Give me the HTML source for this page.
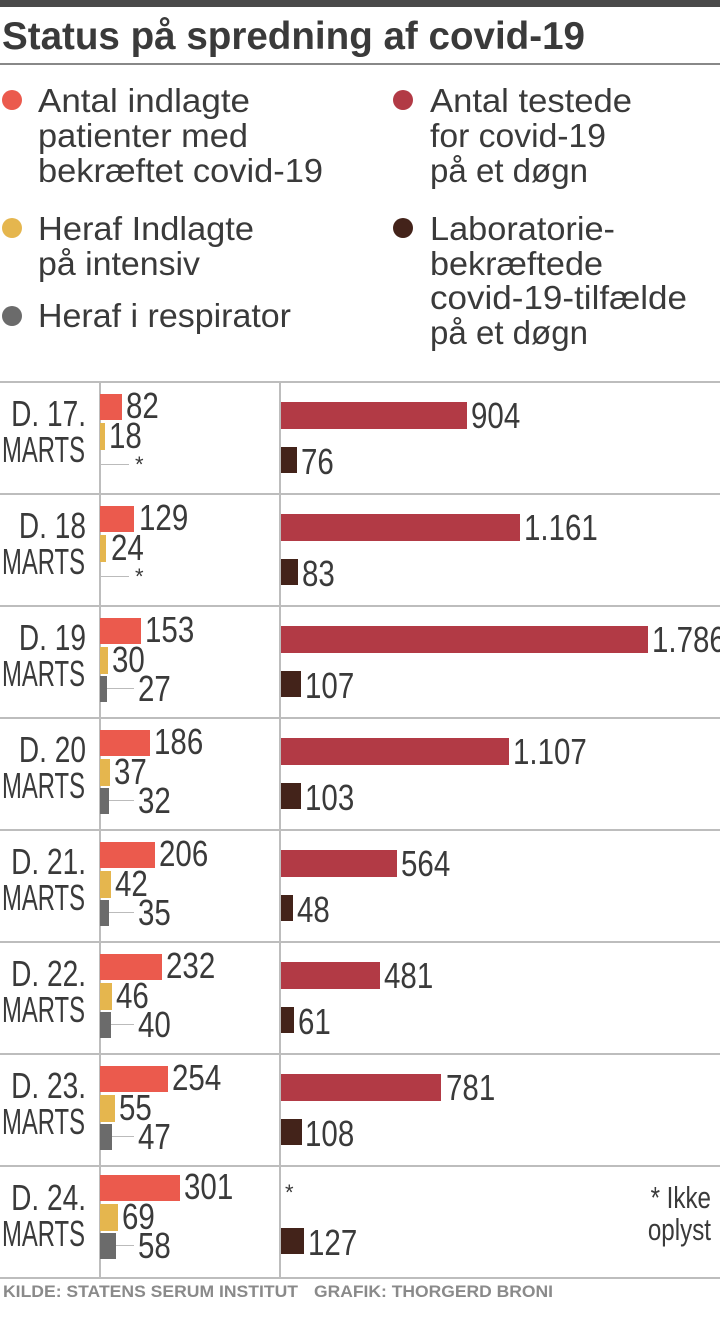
<!DOCTYPE html>
<html><head><meta charset="utf-8"><style>
html,body{margin:0;padding:0;background:#fff}
svg{display:block}
text{font-family:"Liberation Sans",sans-serif;fill:#3a3a3a}
.n{font-size:36px}
.lg{font-size:33px}
</style></head><body>
<svg width="720" height="1327" viewBox="0 0 720 1327" xmlns="http://www.w3.org/2000/svg">
<rect x="0" y="0" width="720" height="7" fill="#4a4a4a"/>
<text x="2" y="49" font-size="39" font-weight="bold" textLength="583" lengthAdjust="spacingAndGlyphs">Status på spredning af covid-19</text>
<rect x="0" y="63" width="720" height="2" fill="#888"/>

<circle cx="12" cy="100" r="10" fill="#eb5a4d"/>
<text class="lg" x="38" y="112" textLength="212" lengthAdjust="spacingAndGlyphs">Antal indlagte</text>
<text class="lg" x="38" y="147" textLength="210" lengthAdjust="spacingAndGlyphs">patienter med</text>
<text class="lg" x="38" y="182" textLength="285" lengthAdjust="spacingAndGlyphs">bekræftet covid-19</text>
<circle cx="12" cy="228" r="10" fill="#e5b64e"/>
<text class="lg" x="38" y="240" textLength="216" lengthAdjust="spacingAndGlyphs">Heraf Indlagte</text>
<text class="lg" x="38" y="275" textLength="162" lengthAdjust="spacingAndGlyphs">på intensiv</text>
<circle cx="12" cy="316" r="10" fill="#6b6b6b"/>
<text class="lg" x="38" y="327" textLength="253" lengthAdjust="spacingAndGlyphs">Heraf i respirator</text>
<circle cx="403" cy="100" r="10" fill="#b23a45"/>
<text class="lg" x="430" y="112" textLength="202" lengthAdjust="spacingAndGlyphs">Antal testede</text>
<text class="lg" x="430" y="147" textLength="176" lengthAdjust="spacingAndGlyphs">for covid-19</text>
<text class="lg" x="430" y="182" textLength="158" lengthAdjust="spacingAndGlyphs">på et døgn</text>
<circle cx="403" cy="228" r="10" fill="#43231a"/>
<text class="lg" x="430" y="240" textLength="185" lengthAdjust="spacingAndGlyphs">Laboratorie-</text>
<text class="lg" x="430" y="275" textLength="173" lengthAdjust="spacingAndGlyphs">bekræftede</text>
<text class="lg" x="430" y="309" textLength="257" lengthAdjust="spacingAndGlyphs">covid-19-tilfælde</text>
<text class="lg" x="430" y="344" textLength="158" lengthAdjust="spacingAndGlyphs">på et døgn</text>

<g fill="#bdbdbd">
<rect x="0" y="381" width="720" height="2"/>
<rect x="0" y="493" width="720" height="2"/>
<rect x="0" y="605" width="720" height="2"/>
<rect x="0" y="717" width="720" height="2"/>
<rect x="0" y="829" width="720" height="2"/>
<rect x="0" y="941" width="720" height="2"/>
<rect x="0" y="1053" width="720" height="2"/>
<rect x="0" y="1165" width="720" height="2"/>
<rect x="0" y="1277" width="720" height="2"/>
<rect x="99" y="381" width="2" height="898"/>
<rect x="279" y="381" width="2" height="898"/>
</g>

<!-- Row 0 -->
<text class="n" text-anchor="end" transform="translate(86,426) scale(.78,1)">D. 17.</text>
<text class="n" x="2" y="462" textLength="83" lengthAdjust="spacingAndGlyphs">MARTS</text>
<rect x="100" y="394" width="22" height="26" fill="#eb5a4d"/>
<text class="n" transform="translate(126,418) scale(.82,1)">82</text>
<rect x="100" y="423" width="5" height="27" fill="#e5b64e"/>
<text class="n" transform="translate(109,448) scale(.82,1)">18</text>
<rect x="101" y="464" width="28" height="1" fill="#bbb"/>
<text transform="translate(135,472)" font-size="22">*</text>
<rect x="281" y="402" width="186" height="27" fill="#b23a45"/>
<text class="n" transform="translate(471,428) scale(.82,1)">904</text>
<rect x="281" y="447" width="16" height="26" fill="#43231a"/>
<text class="n" transform="translate(301,474) scale(.82,1)">76</text>

<!-- Row 1 -->
<text class="n" text-anchor="end" transform="translate(86,538) scale(.78,1)">D. 18</text>
<text class="n" x="2" y="574" textLength="83" lengthAdjust="spacingAndGlyphs">MARTS</text>
<rect x="100" y="506" width="34" height="26" fill="#eb5a4d"/>
<text class="n" transform="translate(139,530) scale(.82,1)">129</text>
<rect x="100" y="535" width="6" height="27" fill="#e5b64e"/>
<text class="n" transform="translate(111,560) scale(.82,1)">24</text>
<rect x="101" y="576" width="28" height="1" fill="#bbb"/>
<text transform="translate(135,584)" font-size="22">*</text>
<rect x="281" y="514" width="239" height="27" fill="#b23a45"/>
<text class="n" transform="translate(524,540) scale(.82,1)">1.161</text>
<rect x="281" y="559" width="17" height="26" fill="#43231a"/>
<text class="n" transform="translate(302,586) scale(.82,1)">83</text>

<!-- Row 2 -->
<text class="n" text-anchor="end" transform="translate(86,650) scale(.78,1)">D. 19</text>
<text class="n" x="2" y="686" textLength="83" lengthAdjust="spacingAndGlyphs">MARTS</text>
<rect x="100" y="618" width="41" height="26" fill="#eb5a4d"/>
<text class="n" transform="translate(145,642) scale(.82,1)">153</text>
<rect x="100" y="647" width="8" height="27" fill="#e5b64e"/>
<text class="n" transform="translate(112,672) scale(.82,1)">30</text>
<rect x="100" y="676" width="7" height="26" fill="#6b6b6b"/>
<rect x="107" y="688" width="27" height="1" fill="#bbb"/>
<text class="n" transform="translate(138,701) scale(.82,1)">27</text>
<rect x="281" y="626" width="367" height="27" fill="#b23a45"/>
<text class="n" transform="translate(652,652) scale(.82,1)">1.786</text>
<rect x="281" y="671" width="20" height="26" fill="#43231a"/>
<text class="n" transform="translate(305,698) scale(.82,1)">107</text>

<!-- Row 3 -->
<text class="n" text-anchor="end" transform="translate(86,762) scale(.78,1)">D. 20</text>
<text class="n" x="2" y="798" textLength="83" lengthAdjust="spacingAndGlyphs">MARTS</text>
<rect x="100" y="730" width="50" height="26" fill="#eb5a4d"/>
<text class="n" transform="translate(154,754) scale(.82,1)">186</text>
<rect x="100" y="759" width="10" height="27" fill="#e5b64e"/>
<text class="n" transform="translate(114,784) scale(.82,1)">37</text>
<rect x="100" y="788" width="9" height="26" fill="#6b6b6b"/>
<rect x="109" y="800" width="25" height="1" fill="#bbb"/>
<text class="n" transform="translate(138,813) scale(.82,1)">32</text>
<rect x="281" y="738" width="228" height="27" fill="#b23a45"/>
<text class="n" transform="translate(513,764) scale(.82,1)">1.107</text>
<rect x="281" y="783" width="20" height="26" fill="#43231a"/>
<text class="n" transform="translate(305,810) scale(.82,1)">103</text>

<!-- Row 4 -->
<text class="n" text-anchor="end" transform="translate(86,874) scale(.78,1)">D. 21.</text>
<text class="n" x="2" y="910" textLength="83" lengthAdjust="spacingAndGlyphs">MARTS</text>
<rect x="100" y="842" width="55" height="26" fill="#eb5a4d"/>
<text class="n" transform="translate(159,866) scale(.82,1)">206</text>
<rect x="100" y="871" width="11" height="27" fill="#e5b64e"/>
<text class="n" transform="translate(115,896) scale(.82,1)">42</text>
<rect x="100" y="900" width="9" height="26" fill="#6b6b6b"/>
<rect x="109" y="912" width="25" height="1" fill="#bbb"/>
<text class="n" transform="translate(138,925) scale(.82,1)">35</text>
<rect x="281" y="850" width="116" height="27" fill="#b23a45"/>
<text class="n" transform="translate(401,876) scale(.82,1)">564</text>
<rect x="281" y="895" width="12" height="26" fill="#43231a"/>
<text class="n" transform="translate(297,922) scale(.82,1)">48</text>

<!-- Row 5 -->
<text class="n" text-anchor="end" transform="translate(86,986) scale(.78,1)">D. 22.</text>
<text class="n" x="2" y="1022" textLength="83" lengthAdjust="spacingAndGlyphs">MARTS</text>
<rect x="100" y="954" width="62" height="26" fill="#eb5a4d"/>
<text class="n" transform="translate(166,978) scale(.82,1)">232</text>
<rect x="100" y="983" width="12" height="27" fill="#e5b64e"/>
<text class="n" transform="translate(116,1008) scale(.82,1)">46</text>
<rect x="100" y="1012" width="11" height="26" fill="#6b6b6b"/>
<rect x="111" y="1024" width="23" height="1" fill="#bbb"/>
<text class="n" transform="translate(138,1037) scale(.82,1)">40</text>
<rect x="281" y="962" width="99" height="27" fill="#b23a45"/>
<text class="n" transform="translate(384,988) scale(.82,1)">481</text>
<rect x="281" y="1007" width="13" height="26" fill="#43231a"/>
<text class="n" transform="translate(298,1034) scale(.82,1)">61</text>

<!-- Row 6 -->
<text class="n" text-anchor="end" transform="translate(86,1098) scale(.78,1)">D. 23.</text>
<text class="n" x="2" y="1134" textLength="83" lengthAdjust="spacingAndGlyphs">MARTS</text>
<rect x="100" y="1066" width="68" height="26" fill="#eb5a4d"/>
<text class="n" transform="translate(172,1090) scale(.82,1)">254</text>
<rect x="100" y="1095" width="15" height="27" fill="#e5b64e"/>
<text class="n" transform="translate(119,1120) scale(.82,1)">55</text>
<rect x="100" y="1124" width="12" height="26" fill="#6b6b6b"/>
<rect x="112" y="1136" width="22" height="1" fill="#bbb"/>
<text class="n" transform="translate(138,1149) scale(.82,1)">47</text>
<rect x="281" y="1074" width="160" height="27" fill="#b23a45"/>
<text class="n" transform="translate(446,1100) scale(.82,1)">781</text>
<rect x="281" y="1119" width="21" height="26" fill="#43231a"/>
<text class="n" transform="translate(305,1146) scale(.82,1)">108</text>

<!-- Row 7 -->
<text class="n" text-anchor="end" transform="translate(86,1210) scale(.78,1)">D. 24.</text>
<text class="n" x="2" y="1246" textLength="83" lengthAdjust="spacingAndGlyphs">MARTS</text>
<rect x="100" y="1175" width="80" height="26" fill="#eb5a4d"/>
<text class="n" transform="translate(184,1199) scale(.82,1)">301</text>
<rect x="100" y="1204" width="18" height="27" fill="#e5b64e"/>
<text class="n" transform="translate(122,1229) scale(.82,1)">69</text>
<rect x="100" y="1233" width="16" height="26" fill="#6b6b6b"/>
<rect x="116" y="1245" width="18" height="1" fill="#bbb"/>
<text class="n" transform="translate(138,1258) scale(.82,1)">58</text>
<text transform="translate(285,1200)" font-size="22">*</text>
<rect x="281" y="1228" width="23" height="26" fill="#43231a"/>
<text class="n" transform="translate(308,1255) scale(.82,1)">127</text>
<text font-size="31" text-anchor="end" transform="translate(711,1208) scale(.78,1)">* Ikke</text>
<text font-size="31" text-anchor="end" transform="translate(711,1240) scale(.78,1)">oplyst</text>

<text x="3" y="1297" font-size="17" font-weight="bold" style="fill:#8a8a8a" textLength="295" lengthAdjust="spacingAndGlyphs">KILDE: STATENS SERUM INSTITUT</text>
<text x="314" y="1297" font-size="17" font-weight="bold" style="fill:#8a8a8a" textLength="239" lengthAdjust="spacingAndGlyphs">GRAFIK: THORGERD BRONI</text>
</svg>
</body></html>
